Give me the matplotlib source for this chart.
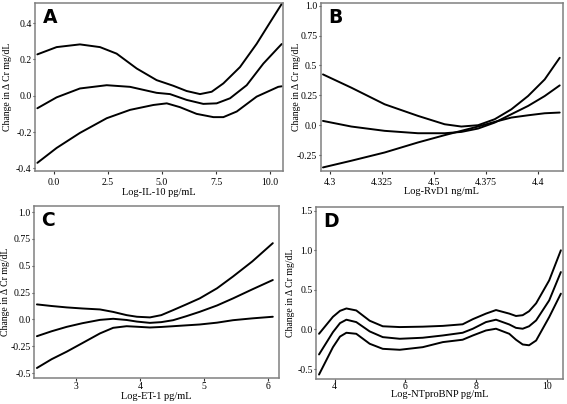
import matplotlib
matplotlib.use('Agg')
import matplotlib.pyplot as plt

# panel A: Log-IL-10 (upper, middle, lower curves)
a_up_x = [-0.77, 0.12, 1.2, 2.13, 2.9, 3.83, 4.75, 5.52, 6.14, 6.76, 7.3, 7.84, 8.61, 9.38, 10.0, 10.54]
a_up = [0.228, 0.268, 0.283, 0.268, 0.232, 0.15, 0.086, 0.055, 0.026, 0.009, 0.022, 0.068, 0.158, 0.286, 0.404, 0.506]
a_mid_x = [-0.77, 0.12, 1.2, 2.44, 3.52, 4.75, 5.37, 6.14, 6.91, 7.53, 8.15, 8.92, 9.69, 10.38, 10.54]
a_mid = [-0.069, -0.009, 0.04, 0.058, 0.049, 0.016, 0.009, -0.023, -0.045, -0.042, -0.014, 0.058, 0.177, 0.265, 0.285]
a_low_x = [-0.77, 0.12, 1.2, 2.44, 3.52, 4.6, 5.22, 5.83, 6.6, 7.38, 7.84, 8.46, 9.38, 10.38, 10.54]
a_low = [-0.37, -0.288, -0.205, -0.124, -0.078, -0.051, -0.042, -0.063, -0.1, -0.118, -0.118, -0.087, -0.005, 0.049, 0.052]

# panel B: Log-RvD1
b_x = [4.2968, 4.3104, 4.3264, 4.3424, 4.3552, 4.3632, 4.3712, 4.3792, 4.3872, 4.3952, 4.4032, 4.4104]
b_up = [0.425, 0.314, 0.175, 0.078, 0.008, -0.011, 0.0, 0.05, 0.133, 0.244, 0.383, 0.564]
b_mid = [0.036, -0.011, -0.047, -0.067, -0.067, -0.056, -0.028, 0.022, 0.092, 0.161, 0.244, 0.333]
b_low = [-0.353, -0.297, -0.228, -0.144, -0.083, -0.047, -0.011, 0.028, 0.064, 0.083, 0.1, 0.106]

# panel C: Log-ET-1
c_x = [2.39, 2.62, 2.855, 3.1, 3.374, 3.58, 3.79, 3.95, 4.153, 4.33, 4.516, 4.72, 4.93, 5.2, 5.45, 5.75, 6.07]
c_up = [0.14, 0.125, 0.112, 0.102, 0.093, 0.07, 0.04, 0.025, 0.019, 0.04, 0.087, 0.14, 0.196, 0.29, 0.4, 0.54, 0.71]
c_mid = [-0.156, -0.11, -0.069, -0.035, -0.004, 0.006, -0.005, -0.02, -0.032, -0.025, -0.007, 0.03, 0.071, 0.13, 0.196, 0.28, 0.367]
c_low = [-0.452, -0.37, -0.30, -0.22, -0.13, -0.078, -0.063, -0.068, -0.075, -0.07, -0.063, -0.055, -0.047, -0.03, -0.007, 0.01, 0.025]

# panel D: Log-NTproBNP
d_x = [3.556, 3.95, 4.15, 4.33, 4.61, 4.99, 5.36, 5.84, 6.49, 7.06, 7.62, 7.91, 8.28, 8.565, 8.94, 9.13, 9.32, 9.5, 9.70, 10.07, 10.40]
d_up = [-0.055, 0.16, 0.235, 0.265, 0.24, 0.11, 0.04, 0.03, 0.035, 0.045, 0.065, 0.13, 0.2, 0.245, 0.2, 0.17, 0.18, 0.23, 0.33, 0.62, 1.0]
d_mid = [-0.316, -0.034, 0.08, 0.123, 0.093, -0.025, -0.097, -0.118, -0.105, -0.076, -0.042, 0.009, 0.093, 0.123, 0.063, 0.02, 0.009, 0.04, 0.114, 0.367, 0.725]
d_low = [-0.57, -0.224, -0.09, -0.042, -0.055, -0.181, -0.245, -0.257, -0.224, -0.16, -0.13, -0.076, -0.013, 0.009, -0.055, -0.13, -0.19, -0.2, -0.14, 0.156, 0.452]

panels = [
    ("A", "Log-IL-10 pg/mL", [(a_up_x, a_up), (a_mid_x, a_mid), (a_low_x, a_low)],
     [0.0, 2.5, 5.0, 7.5, 10.0], ["0.0", "2.5", "5.0", "7.5", "10.0"],
     [-0.4, -0.2, 0.0, 0.2, 0.4], ["-0.4", "-0.2", "0.0", "0.2", "0.4"]),
    ("B", "Log-RvD1 ng/mL", [(b_x, b_up), (b_x, b_mid), (b_x, b_low)],
     [4.3, 4.325, 4.35, 4.375, 4.4], ["4.3", "4.325", "4.5", "4.375", "4.4"],
     [-0.25, 0.0, 0.25, 0.5, 0.75, 1.0], ["-0.25", "0.0", "0.25", "0.5", "0.75", "1.0"]),
    ("C", "Log-ET-1 pg/mL", [(c_x, c_up), (c_x, c_mid), (c_x, c_low)],
     [3, 4, 5, 6], ["3", "4", "5", "6"],
     [-0.5, -0.25, 0.0, 0.25, 0.5, 0.75, 1.0], ["-0.5", "-0.25", "0.0", "0.25", "0.5", "0.75", "1.0"]),
    ("D", "Log-NTproBNP pg/mL", [(d_x, d_up), (d_x, d_mid), (d_x, d_low)],
     [4, 6, 8, 10], ["4", "6", "8", "10"],
     [-0.5, 0.0, 0.5, 1.0, 1.5], ["-0.5", "0.0", "0.5", "1.0", "1.5"]),
]

# axes boxes, limits and label spots
rects = [[0.0617, 0.5767, 0.4374, 0.4158], [0.5656, 0.5767, 0.4274, 0.4158],
         [0.0600, 0.0644, 0.4321, 0.4257], [0.5573, 0.0631, 0.4356, 0.4245]]
xlims = [(-0.88, 10.6), (4.2957, 4.412), (2.345, 6.167), (3.47, 10.46)]
ylims = [(-0.415, 0.511), (-0.383, 1.022), (-0.545, 1.056), (-0.62, 1.547)]
ylab_x = [-0.109, -0.098, -0.118, -0.104]
xlab_y = [-0.126, -0.123, -0.105, -0.095]
xpad = [3.0, 3.0, 1.0, 1.0]

serif = 'Liberation Serif'
fig = plt.figure(figsize=(5.67, 4.04), dpi=100)

for i, (letter, xlabel, curves, xt, xtl, yt, ytl) in enumerate(panels):
    ax = fig.add_axes(rects[i])
    for xs, ys in curves:
        ax.plot(xs, ys, color='black', lw=1.4, solid_capstyle='round', solid_joinstyle='round')
    ax.set_xlim(*xlims[i])
    ax.set_ylim(*ylims[i])
    ax.set_xticks(xt)
    ax.set_xticklabels(xtl, family=serif, fontsize=7)
    ax.set_yticks(yt)
    ax.set_yticklabels(ytl, family=serif, fontsize=7)
    ax.tick_params(length=1.8, width=0.8, color='#333333')
    ax.tick_params(axis='x', pad=xpad[i])
    ax.tick_params(axis='y', pad=0.6)
    for sp in ax.spines.values():
        sp.set_color('#808080')
        sp.set_linewidth(1.1)
    ax.set_xlabel(xlabel, family=serif, fontsize=7.5, va='center')
    ax.xaxis.set_label_coords(0.5, xlab_y[i])
    ax.set_ylabel("Change in \u0394 Cr mg/dL", family=serif, fontsize=7, va='center')
    ax.yaxis.set_label_coords(ylab_x[i], 0.5)
    ax.text(0.03, 0.97, letter, transform=ax.transAxes, ha='left', va='top',
            family='DejaVu Sans', fontweight='bold', fontsize=13.5)

fig.savefig('out.png', dpi=100)
